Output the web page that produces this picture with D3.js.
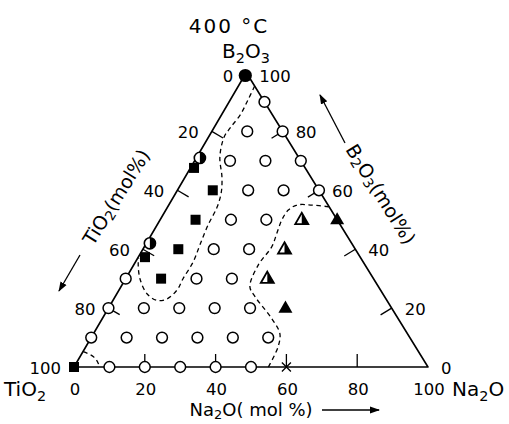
<!DOCTYPE html>
<html><head><meta charset="utf-8">
<script src="https://cdn.jsdelivr.net/npm/d3@7"></script>
<style>body{margin:0;background:#fff}svg{display:block}text{font-family:"DejaVu Sans",sans-serif;fill:#000}</style>
</head><body><svg id="c" width="509" height="424"></svg>
<script>
// compositions as [Na2O, B2O3] mol% ; TiO2 = 100 - Na2O - B2O3
const openCircles = [[10,90],[10,80],[20,80],[10,70],[20,70],[30,70],[20,60],[30,60],[40,60],[20,50],[30,50],[20,40],[30,40],[0,30],[20,30],[30,30],[0,20],[10,20],[20,20],[30,20],[40,20],[0,10],[10,10],[20,10],[30,10],[40,10],[50,10],[10,0],[20,0],[30,0],[40,0],[50,0]];
const filledCircles = [[0,100]];
const halfCircles = [[1,71],[1,42]];
const filledSquares = [[0,0],[10,60],[10,50],[10,40],[10,30],[1,67.6],[1.9,37.3]];
const filledTriangles = [[50,50],[50,20]];
const halfTriangles = [[40,50],[40,40],[40,30]];
const crosses = [[60,0]];
const leftBoundary = [[4.6,95.4],[5.0,90.7],[5.3,85.6],[4.6,81.2],[4.4,78.1],[6.5,71.3],[10.4,64.5],[12.7,59.4],[14.0,54.3],[14.4,48.2],[15.4,41.4],[16.3,35.7],[16.2,29.9],[16.4,26.2],[15.0,23.1],[12.5,22.6],[8.6,24.8],[4.1,29.9],[1.1,35.0],[0.3,37.0]];
const rightBoundary = [[45.5,54.4],[40.5,55.0],[36.2,55.0],[34.6,53.3],[34.4,49.9],[35.2,45.4],[36.0,40.9],[35.2,34.6],[36.4,27.3],[39.5,23.9],[47.8,16.5],[52.6,11.4],[54.3,6.9],[54.9,0]];
const cornerBoundary = [[0.1,5.2],[3.8,3.5],[6.2,1.3],[7.1,0]];
const tickLabels = [0,20,40,60,80,100];
const tickMarks = [20,40,60,80];

const svg = d3.select("#c");
// ternary projection through linear scales
const xN = d3.scaleLinear().domain([0,100]).range([0,354]);
const xB = d3.scaleLinear().domain([0,100]).range([0,172.3]);
const yB = d3.scaleLinear().domain([0,100]).range([367,72.5]);
const X0 = 74;
const px = (n,b) => X0 + xN(n) + xB(b);
const py = (n,b) => yB(b);
const P = d => [px(d[0],d[1]), py(d[0],d[1])];

const defs = svg.append("defs");
defs.append("marker").attr("id","ah").attr("viewBox","0 0 10 10").attr("refX",9).attr("refY",5)
  .attr("markerWidth",10).attr("markerHeight",10).attr("markerUnits","userSpaceOnUse").attr("orient","auto")
  .append("path").attr("d","M0,1.5L10,5L0,8.5Z").attr("fill","#000");

// triangle frame
const corners = [[0,100],[100,0],[0,0]];
svg.append("path").attr("d", d3.line()(corners.map(P)) + "Z")
  .attr("fill","none").attr("stroke","#000").attr("stroke-width",1.6).attr("stroke-linejoin","round");

// boundary curves
const curve = d3.line().x(d=>px(d[0],d[1])).y(d=>py(d[0],d[1])).curve(d3.curveCatmullRom.alpha(0.5));
[leftBoundary,rightBoundary,cornerBoundary].forEach(arr=>{
  svg.append("path").attr("d",curve(arr)).attr("fill","none").attr("stroke","#000")
    .attr("stroke-width",1.3).attr("stroke-dasharray","4.5,3.5");
});

// ticks (perpendicular to edges, inward)
const TL = 13;
function tick(p, dir){ svg.append("line").attr("x1",p[0]).attr("y1",p[1]).attr("x2",p[0]+dir[0]*TL).attr("y2",p[1]+dir[1]*TL).attr("stroke","#000").attr("stroke-width",1.3); }
const A = P([0,0]), Bv = P([100,0]), C = P([0,100]);
function unit(v){const l=Math.hypot(v[0],v[1]);return [v[0]/l,v[1]/l];}
const lE = unit([C[0]-A[0],C[1]-A[1]]);
let lDir = [-lE[1], lE[0]]; if (lDir[0]<0) lDir=[-lDir[0],-lDir[1]];
const rE = unit([C[0]-Bv[0],C[1]-Bv[1]]);
let rDir = [-rE[1], rE[0]]; if (rDir[0]>0) rDir=[-rDir[0],-rDir[1]];
tickMarks.forEach(v=>{
  tick(P([0,100-v]), lDir);          // TiO2 = v on left edge
  tick(P([100-v,v]), rDir);          // B2O3 = v on right edge
  tick(P([v,0]), [0,-1]);            // Na2O = v on bottom
});

// tick labels
const lab = svg.append("g").attr("font-size",16.5);
tickLabels.forEach(v=>{
  const pl = P([0,100-v]);
  const dyA = v===0 ? 4 : 1;
  lab.append("text").attr("x",pl[0]-13).attr("y",pl[1]+dyA).attr("text-anchor","end").attr("dominant-baseline","central").text(v);
  const pr = P([100-v,v]);
  const dyR = v===100 ? 4 : 1;
  lab.append("text").attr("x",pr[0]+13).attr("y",pr[1]+dyR).attr("text-anchor","start").attr("dominant-baseline","central").text(v);
  const pb = P([v,0]);
  lab.append("text").attr("x",pb[0]+1).attr("y",pb[1]+22).attr("text-anchor","middle").attr("dominant-baseline","central").text(v);
});

// symbols
const g = svg.append("g");
openCircles.forEach(d=>{const p=P(d);g.append("circle").attr("cx",p[0]).attr("cy",p[1]).attr("r",5.4).attr("fill","#fff").attr("stroke","#000").attr("stroke-width",1.5);});
filledCircles.forEach(d=>{const p=P(d);g.append("circle").attr("cx",p[0]-1).attr("cy",p[1]+3).attr("r",6.6).attr("fill","#000");});
halfCircles.forEach(d=>{const p=P(d),r=5.6;
  g.append("circle").attr("cx",p[0]).attr("cy",p[1]).attr("r",r).attr("fill","#fff").attr("stroke","#000").attr("stroke-width",1.6);
  g.append("path").attr("d",`M${p[0]},${p[1]-r}A${r},${r} 0 0 1 ${p[0]},${p[1]+r}Z`).attr("fill","#000");});
filledSquares.forEach(d=>{const p=P(d),s=10;g.append("rect").attr("x",p[0]-s/2).attr("y",p[1]-s/2).attr("width",s).attr("height",s).attr("fill","#000");});
const triPts = (p,s)=>{const h=s*0.866;return [[p[0],p[1]-h*0.62],[p[0]+s/2,p[1]+h*0.38],[p[0]-s/2,p[1]+h*0.38]];};
filledTriangles.forEach(d=>{const p=P(d);g.append("path").attr("d",d3.line()(triPts(p,14))+"Z").attr("fill","#000");});
halfTriangles.forEach(d=>{const p=P(d),t=triPts(p,13);
  g.append("path").attr("d",d3.line()(t)+"Z").attr("fill","#fff").attr("stroke","#000").attr("stroke-width",1.8).attr("stroke-linejoin","miter");
  g.append("path").attr("d",d3.line()([t[0],t[1],[p[0],t[1][1]]])+"Z").attr("fill","#000");});
crosses.forEach(d=>{const p=P(d),s=4.5;
  g.append("path").attr("d",`M${p[0]-s},${p[1]-s}L${p[0]+s},${p[1]+s}M${p[0]+s},${p[1]-s}L${p[0]-s},${p[1]+s}`).attr("stroke","#000").attr("stroke-width",1.3);});

// titles
function chem(sel, parts, fs, k){ k=k||0.25; let last=false; parts.forEach(([t,sub])=>{ const ts=sel.append("tspan").text(t); if(sub){ts.attr("font-size",fs*0.72).attr("dy",fs*k);} else if(last){ts.attr("dy",-fs*k);} last=!!sub; }); }
svg.append("text").attr("x",229).attr("y",33).attr("text-anchor","middle").attr("font-size",20).attr("letter-spacing",2).text("400 °C");
const tb = svg.append("text").attr("x",246).attr("y",58).attr("text-anchor","middle").attr("font-size",20);
chem(tb,[["B"],["2",1],["O"],["3",1]],20);
const tt = svg.append("text").attr("x",4).attr("y",396).attr("font-size",20);
chem(tt,[["TiO"],["2",1]],20);
const tn = svg.append("text").attr("x",452).attr("y",396).attr("font-size",20);
chem(tn,[["Na"],["2",1],["O"]],20);
const tx = svg.append("text").attr("x",251).attr("y",415.5).attr("text-anchor","middle").attr("font-size",18);
chem(tx,[["Na"],["2",1],["O( mol %)"]],18,0.2);
svg.append("line").attr("x1",322).attr("y1",410).attr("x2",379).attr("y2",410).attr("stroke","#000").attr("stroke-width",1.3).attr("marker-end","url(#ah)");

const tl = svg.append("text").attr("transform","translate(116,197) rotate(-58)").attr("text-anchor","middle").attr("dominant-baseline","central").attr("font-size",19);
chem(tl,[["TiO"],["2",1],["(mol%)"]],19);
svg.append("line").attr("x1",80).attr("y1",255).attr("x2",59).attr("y2",291).attr("stroke","#000").attr("stroke-width",1.3).attr("marker-end","url(#ah)");

const tr = svg.append("text").attr("transform","translate(381,194) rotate(58)").attr("text-anchor","middle").attr("dominant-baseline","central").attr("font-size",19);
chem(tr,[["B"],["2",1],["O"],["3",1],["(mol%)"]],19);
svg.append("line").attr("x1",345).attr("y1",143).attr("x2",320).attr("y2",95).attr("stroke","#000").attr("stroke-width",1.3).attr("marker-end","url(#ah)");
</script></body></html>
